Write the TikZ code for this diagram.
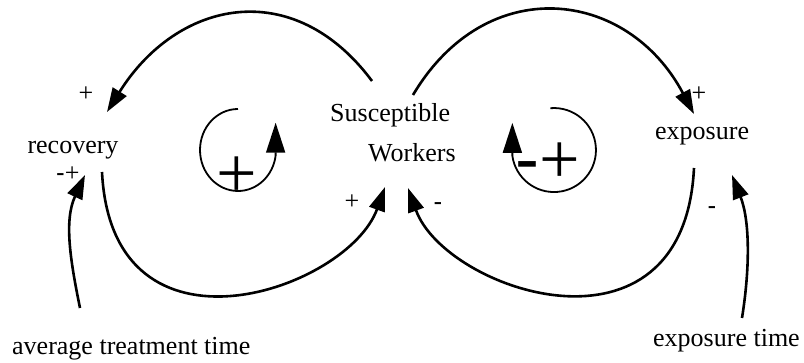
\documentclass[tikz,border=0pt]{standalone}
\usepackage{fontspec}
\setmainfont{Liberation Serif}
\setsansfont{Liberation Sans}
\usetikzlibrary{arrows.meta}
\begin{document}
\begin{tikzpicture}[x=1pt,y=-1pt,
  lbl/.style={font=\fontsize{26}{30}\selectfont, inner sep=0pt},
  sgn/.style={font=\fontsize{26}{30}\selectfont, inner sep=0pt, anchor=base},
  link/.style={line width=2.6pt, -{Triangle[length=24pt,width=16pt]}},
  loopline/.style={line width=1.8pt, -{Triangle[length=30pt,width=19pt]}},
  loopsign/.style={font=\fontsize{72}{80}\selectfont, inner sep=0pt, anchor=base},
]
\useasboundingbox (0,0) rectangle (804,363);

% variables
\node[lbl, anchor=base] (rec) at (73,154) {recovery};
\node[lbl, anchor=base west] (sus) at (330,122) {Susceptible};
\node[lbl, anchor=base west] (wrk) at (368,162) {Workers};
\node[lbl, anchor=base west] (exp) at (655,140) {exposure};
\node[lbl, anchor=base west] (att) at (12,355) {average treatment time};
\node[lbl, anchor=base west] (ext) at (653,347) {exposure time};

% connector end points around the variables
\coordinate (susTL) at (372,81);
\coordinate (susTR) at (413,95);
\coordinate (susBL) at (385,187);
\coordinate (susBR) at (408,188);
\coordinate (recT) at (107,112);
\coordinate (recB) at (102,172);
\coordinate (recIn) at (85,175);
\coordinate (expT) at (694,114);
\coordinate (expB) at (694,168);
\coordinate (expIn) at (732,175);
\coordinate (attOut) at (80,308);
\coordinate (extOut) at (742,318);

% causal links
\draw[link] (susTL) .. controls (293,-25) and (177,0) .. (recT);
\draw[link] (susTR) .. controls (486,-28) and (627,-12) .. (expT);
\draw[link] (recB) .. controls (112,372) and (348,290) .. (susBL);
\draw[link] (expB) .. controls (684,372) and (445,291) .. (susBR);
\draw[link] (attOut) .. controls (70,259) and (64,220) .. (recIn);
\draw[link] (extOut) .. controls (750,268) and (750,221) .. (expIn);

% link polarities
\node[sgn] (p1) at (86,101.5) {+};
\node[sgn, anchor=base west] (p2) at (56,182) {{\sffamily -}+};
\node[sgn] (p3) at (352,209.5) {+};
\node[sgn] (m1) at (438,211) {\sffamily -};
\node[sgn] (p4) at (699,101.5) {+};
\node[sgn] (m2) at (712,215) {\sffamily -};

% loop markers
\draw[loopline] (238,109) arc[start angle=270, end angle=8, x radius=38, y radius=41] -- ++(0,-33);
\draw[loopline] (550.3,108.2) arc[start angle=-95, end angle=172, radius=42] -- ++(0,-33);
\node[loopsign] (lp1) at (237,198) {+};
\node[loopsign, anchor=base west] (lp2) at (515.7,184) {{\sffamily -}+};
\end{tikzpicture}
\end{document}
